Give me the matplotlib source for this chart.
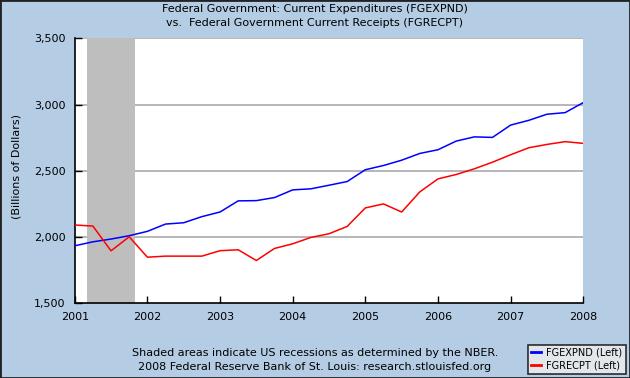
import numpy as np
import matplotlib
matplotlib.use("Agg")
import matplotlib.pyplot as plt
from matplotlib.patches import Rectangle

# quarterly, 2001Q1 .. 2008Q1 (billions of dollars)
quarters = np.arange(2001, 2008.01, 0.25)
fgexpnd = [1934, 1964, 1985, 2010, 2043, 2098, 2108, 2154,
           2189, 2273, 2275, 2298, 2356, 2364, 2391, 2419,
           2508, 2540, 2580, 2631, 2659, 2724, 2756, 2752,
           2845, 2881, 2927, 2939, 3015]
fgrecpt = [2091, 2083, 1896, 2002, 1848, 1856, 1856, 1856,
           1897, 1904, 1823, 1914, 1949, 1997, 2025, 2080,
           2220, 2250, 2189, 2341, 2439, 2472, 2515, 2565,
           2621, 2674, 2699, 2720, 2707]
recession = (2001 + 2 / 12, 2001 + 10 / 12)
years = [2001, 2002, 2003, 2004, 2005, 2006, 2007, 2008]
yticks = [1500, 2000, 2500, 3000, 3500]

bg = '#b4cde4'
fig = plt.figure(figsize=(6.3, 3.78), dpi=100, facecolor=bg)
ax = fig.add_axes([74.7 / 630, 1 - 303.3 / 378, 508.6 / 630, 265 / 378])
ax.set_facecolor('white')

ax.axvspan(recession[0], recession[1], color='#bebebe', lw=0, zorder=1)
for v in yticks[1:]:
    ax.axhline(v, color='#aaaaaa', lw=1.2, zorder=0.5)

ax.plot(quarters, fgexpnd, color='#0000ff', lw=1.1, label='FGEXPND (Left)', zorder=3)
ax.plot(quarters, fgrecpt, color='#ff0000', lw=1.1, label='FGRECPT (Left)', zorder=3)

ax.set_xlim(2001, 2008)
ax.set_ylim(1500, 3500)
ax.set_xticks(years)
ax.set_xticklabels([str(y) for y in years], fontsize=8)
ax.set_yticks(yticks)
ax.set_yticklabels(['{:,}'.format(v) for v in yticks], fontsize=8)
ax.tick_params(direction='in', length=5, width=1, color='black')
ax.tick_params(axis='y', pad=6.5)
ax.tick_params(axis='x', pad=6)
for s in ['top', 'right']:
    ax.spines[s].set_visible(False)
for s in ['left', 'bottom']:
    ax.spines[s].set_color('black')
    ax.spines[s].set_linewidth(1.2)

ax.set_ylabel('(Billions of Dollars)', fontsize=8)
ax.yaxis.set_label_coords(-0.104, 0.518)

fig.text(0.5, 1 - 9.5 / 378, 'Federal Government: Current Expenditures (FGEXPND)',
         ha='center', va='center', fontsize=8)
fig.text(0.5, 1 - 23.5 / 378, 'vs.  Federal Government Current Receipts (FGRECPT)',
         ha='center', va='center', fontsize=8)
fig.text(0.5, 1 - 353 / 378, 'Shaded areas indicate US recessions as determined by the NBER.',
         ha='center', va='center', fontsize=8)
fig.text(0.5, 1 - 367 / 378, '2008 Federal Reserve Bank of St. Louis: research.stlouisfed.org',
         ha='center', va='center', fontsize=8)

leg = fig.legend(loc='lower right', bbox_to_anchor=(625.5 / 630, 4.5 / 378), fontsize=7,
                 frameon=True, fancybox=False, handlelength=1.0, handletextpad=0.6,
                 borderpad=0.3, labelspacing=0.3, borderaxespad=0)
leg.get_frame().set_edgecolor('black')
leg.get_frame().set_facecolor('#eeeeee')
leg.get_frame().set_linewidth(1.2)
for ln in leg.get_lines():
    ln.set_linewidth(2)

fig.patches.append(Rectangle((0, 0), 1, 1, transform=fig.transFigure, fill=False,
                             edgecolor='#222222', lw=2))

fig.savefig('out.png', dpi=100, facecolor=bg)
